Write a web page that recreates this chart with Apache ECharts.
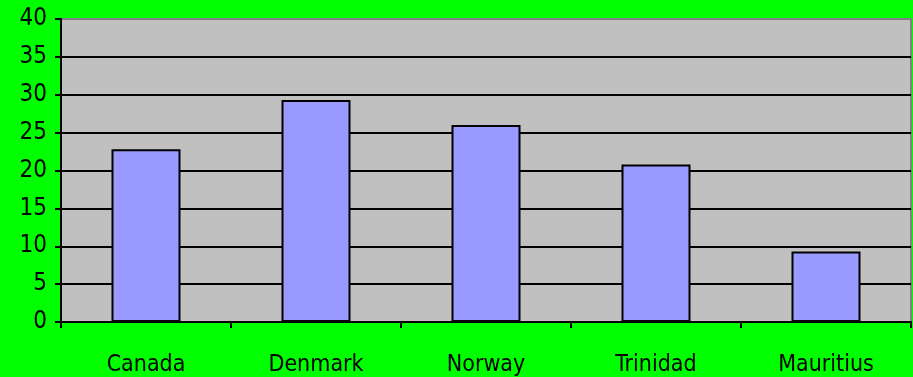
<!DOCTYPE html>
<html>
<head>
<meta charset="utf-8">
<script src="https://cdn.jsdelivr.net/npm/echarts@6/dist/echarts.min.js"></script>
<style>
  html, body { margin: 0; padding: 0; background: #00ff00; }
  #chart { width: 913px; height: 377px; }
</style>
</head>
<body>
<div id="chart"></div>
<script>
// Countries along the category axis
const countries = ['Canada', 'Denmark', 'Norway', 'Trinidad', 'Mauritius'];
// Bar values per country
const values = [22.8, 29.3, 26.0, 20.8, 9.3];
// Value axis range and step
const yMin = 0;
const yMax = 40;
const yStep = 5;

const font = '"DejaVu Sans Condensed", "Liberation Sans", Arial, sans-serif';

// Horizontal rules: black inside the plot, grey for the top edge
const ruleColors = [];
for (let v = yMin; v <= yMax; v += yStep) {
  ruleColors.push(v === yMax ? '#808080' : '#000000');
}

const chart = echarts.init(document.getElementById('chart'));
chart.setOption({
  backgroundColor: '#00ff00',
  animation: false,
  grid: {
    left: 61,
    right: 2,
    top: 19,
    bottom: 54,
    show: true,
    backgroundColor: '#c0c0c0',
    borderColor: '#808080',
    borderWidth: 2
  },
  xAxis: {
    type: 'category',
    data: countries,
    boundaryGap: true,
    axisLine: { show: true, lineStyle: { color: '#000', width: 2 } },
    axisTick: { show: true, alignWithLabel: false, length: 6, lineStyle: { color: '#000', width: 2 } },
    axisLabel: { color: '#000', fontFamily: font, fontSize: 23, margin: 32 },
    splitLine: { show: false }
  },
  yAxis: {
    type: 'value',
    min: yMin,
    max: yMax,
    interval: yStep,
    axisLine: { show: true, lineStyle: { color: '#000', width: 2 } },
    axisTick: { show: true, length: 6, lineStyle: { color: '#000', width: 2 } },
    axisLabel: { color: '#000', fontFamily: font, fontSize: 24, margin: 14, padding: [4, 0, 0, 0] },
    splitLine: { show: true, lineStyle: { color: ruleColors, width: 2 } }
  },
  series: [{
    type: 'bar',
    data: values,
    barWidth: 69,
    itemStyle: { color: '#9999ff', borderColor: '#000', borderWidth: 2 }
  }]
});
</script>
</body>
</html>
